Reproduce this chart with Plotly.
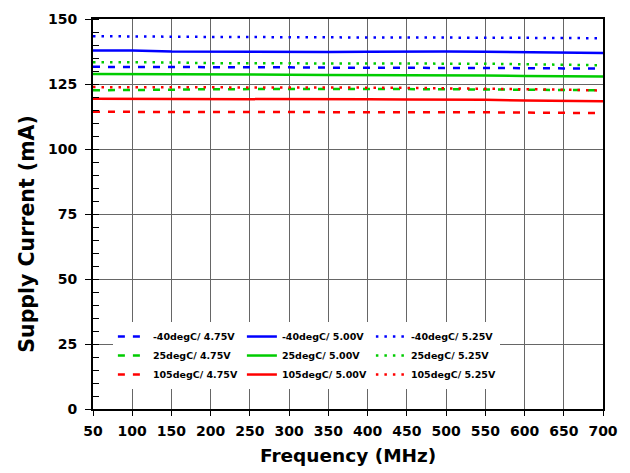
import plotly.graph_objects as go

# Frequency sweep points (MHz)
freq_mhz = [50, 100, 150, 200, 250, 300, 350, 400, 450, 500, 550, 600, 650, 700]

# Supply current (mA) per temperature / supply voltage
m40_475 = [131.6, 131.6, 131.5, 131.4, 131.4, 131.4, 131.3, 131.3, 131.3, 131.2, 131.2, 131.1, 131.0, 131.0]
m40_500 = [137.9, 137.9, 137.5, 137.4, 137.4, 137.4, 137.3, 137.4, 137.5, 137.5, 137.4, 137.2, 137.0, 136.9]
m40_525 = [143.4, 143.4, 143.2, 143.1, 143.0, 143.0, 142.9, 142.9, 142.9, 142.9, 142.8, 142.8, 142.7, 142.6]
t25_475 = [122.6, 122.6, 122.8, 123.0, 123.1, 123.1, 123.1, 123.1, 123.1, 123.0, 122.9, 122.8, 122.7, 122.6]
t25_500 = [128.8, 128.8, 128.8, 128.7, 128.7, 128.6, 128.5, 128.5, 128.5, 128.4, 128.3, 128.1, 128.0, 127.9]
t25_525 = [133.4, 133.4, 133.3, 133.0, 133.0, 132.9, 133.0, 133.0, 133.0, 132.9, 132.8, 132.6, 132.4, 132.2]
t105_475 = [114.3, 114.3, 114.3, 114.3, 114.3, 114.3, 114.3, 114.3, 114.2, 114.2, 114.1, 114.0, 113.9, 113.8]
t105_500 = [119.3, 119.3, 119.2, 119.2, 119.1, 119.1, 119.1, 119.1, 119.0, 119.0, 118.9, 118.7, 118.6, 118.4]
t105_525 = [123.8, 123.8, 123.8, 123.7, 123.7, 123.7, 123.6, 123.6, 123.5, 123.4, 123.2, 123.0, 122.8, 122.5]

series_names = [
    "-40degC/ 4.75V", "25degC/ 4.75V", "105degC/ 4.75V",
    "-40degC/ 5.00V", "25degC/ 5.00V", "105degC/ 5.00V",
    "-40degC/ 5.25V", "25degC/ 5.25V", "105degC/ 5.25V",
]
series_values = [m40_475, t25_475, t105_475,
                 m40_500, t25_500, t105_500,
                 m40_525, t25_525, t105_525]

x_ticks = [50, 100, 150, 200, 250, 300, 350, 400, 450, 500, 550, 600, 650, 700]
y_ticks = [0, 25, 50, 75, 100, 125, 150]

temp_colors = ["#0000FF", "#00CC00", "#FF0000"]
volt_dash = {"4.75V": "7px,8px", "5.00V": "solid", "5.25V": "2.5px,6px"}
volt_groups = ["4.75V", "5.00V", "5.25V"]

FONT = "DejaVu Sans, Verdana, sans-serif"

fig = go.Figure()
for i, (name, vals) in enumerate(zip(series_names, series_values)):
    group = volt_groups[i // 3]
    fig.add_trace(go.Scatter(
        x=freq_mhz, y=vals, name=name, mode="lines",
        legendgroup=group,
        line=dict(color=temp_colors[i % 3], width=2.5, dash=volt_dash[group]),
    ))

axis_common = dict(
    showline=True, linecolor="black", linewidth=2, mirror=True,
    showgrid=True, gridcolor="#666666", gridwidth=1,
    zeroline=False, ticks="outside", tickcolor="black", tickwidth=1,
    tickfont=dict(family=FONT, size=14, color="black", weight="bold"),
)

fig.update_xaxes(
    range=[50, 700], tickmode="array", tickvals=x_ticks,
    ticklen=5, ticklabelstandoff=3, **axis_common,
)
fig.update_yaxes(
    range=[0, 150], tickmode="array", tickvals=y_ticks,
    ticklen=6, ticklabelstandoff=5,
    minor=dict(ticks="inside", dtick=5, ticklen=6, tickcolor="black",
               tickwidth=1, showgrid=False),
    **axis_common,
)

fig.update_layout(
    width=630, height=473, autosize=False,
    margin=dict(l=93, r=27, t=19, b=64),
    paper_bgcolor="white", plot_bgcolor="white",
    showlegend=True,
    legend=dict(
        orientation="h", traceorder="grouped", tracegroupgap=0,
        entrywidth=84, entrywidthmode="pixels",
        x=0.039, xanchor="left", y=0.223, yanchor="top",
        bgcolor="white", borderwidth=0,
        font=dict(family=FONT, size=9.5, color="black", weight="bold"),
        groupclick="toggleitem",
    ),
    annotations=[
        dict(text="Frequency (MHz)", xref="paper", yref="paper",
             x=0.5, y=-0.118, xanchor="center", yanchor="middle",
             showarrow=False,
             font=dict(family=FONT, size=18.5, color="black", weight="bold")),
        dict(text="Supply Current (mA)", xref="paper", yref="paper",
             x=-0.131, y=0.45, xanchor="center", yanchor="middle",
             textangle=-90, showarrow=False,
             font=dict(family=FONT, size=20.5, color="black", weight="bold")),
    ],
)

fig.write_html("out.html")
